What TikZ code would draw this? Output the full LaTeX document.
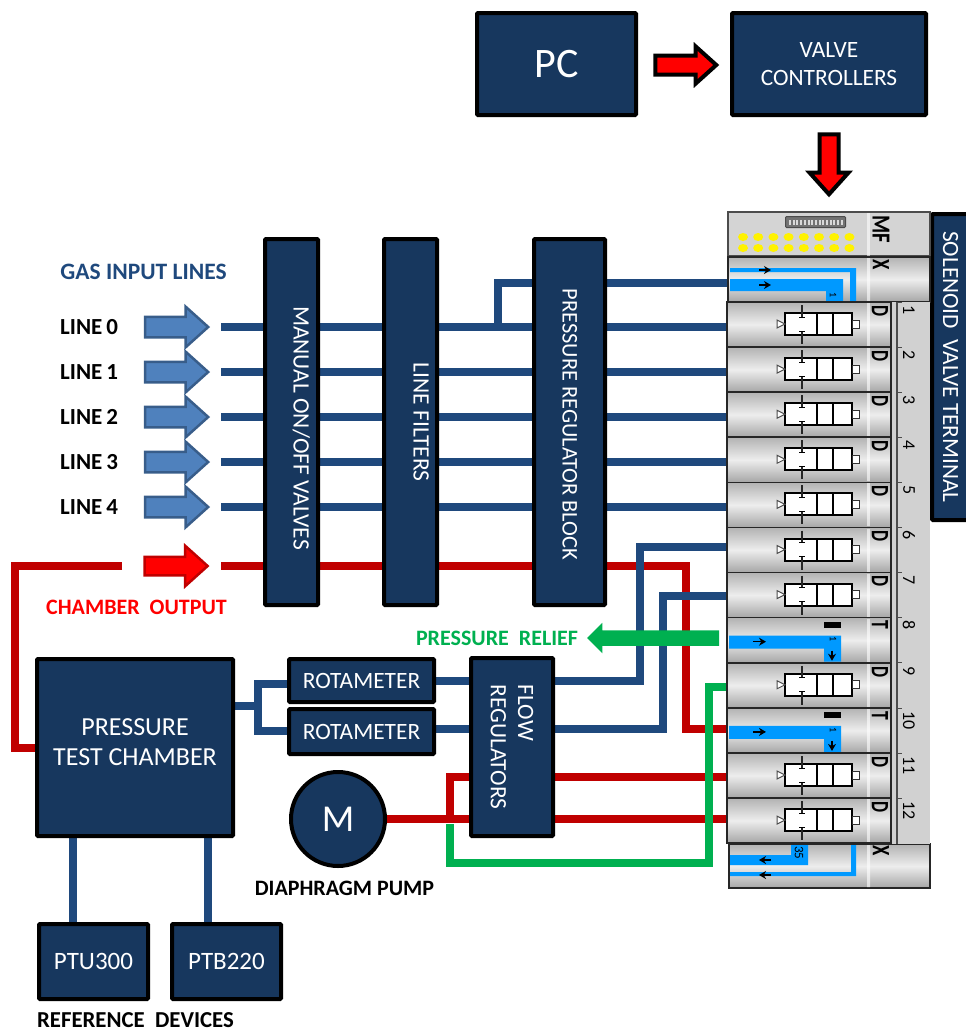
\documentclass[tikz,border=0pt]{standalone}
\usepackage{fontspec}
\setmainfont{Carlito}
\usetikzlibrary{positioning,arrows.meta,shapes.arrows,backgrounds}
\definecolor{navy}{HTML}{17375E}
\definecolor{pipeblue}{HTML}{1F497D}
\definecolor{piperred}{HTML}{C00000}
\definecolor{pipegreen}{HTML}{00B050}
\definecolor{flowblue}{HTML}{0099FF}
\definecolor{arrowblue}{HTML}{4F81BD}
\definecolor{arrowedge}{HTML}{385D8A}
\newcommand{\fs}[1]{\fontsize{#1}{#1}\selectfont}
\newcommand{\nudged}[3]{\hspace*{#2}\raisebox{#1}[0pt][0pt]{#3}}
\begin{document}
\begin{tikzpicture}[
    on grid,>=Stealth,x=1pt,y=-1pt,
    box/.style={draw=black,fill=navy,line width=4pt,rounded corners=1pt,text=white,align=center,inner sep=0pt},
    vbox/.style={box,rotate=-90},
    bluepipe/.style={draw=pipeblue,line width=8pt},
    redpipe/.style={draw=piperred,line width=8pt},
    greenpipe/.style={draw=pipegreen,line width=7.5pt},
    lbl/.style={font=\bfseries\fs{22},inner sep=0pt},
    blockarrow/.style={single arrow,single arrow head extend=10pt,single arrow tip angle=84,inner sep=0pt,inner ysep=9pt,minimum height=63pt,line width=2.5pt},
    module/.style={draw=black!85,line width=1.5pt,minimum width=164pt,minimum height=45pt,inner sep=0pt,top color=black!30,bottom color=black!35,middle color=black!7},
    rotlabel/.style={rotate=-90,inner sep=0pt,anchor=west},
    letter/.style={rotate=-90,inner sep=0pt,font=\bfseries\fs{25}},
    flow/.style={fill=flowblue,draw=none},
    tinyarrow/.style={-{Stealth[length=7pt,width=8pt]},line width=1.5pt,black}
]
    \useasboundingbox (0,0) rectangle (966,1034);
    %Top row
    \node[box,minimum width=159pt,minimum height=102pt,font=\fs{42}] (pc) at (556.5,64) {PC};
    \node[box,minimum width=194pt,minimum height=102pt,font=\fs{23.4},right=272.5pt of pc] (ctrl) {VALVE\\[4.5pt]CONTROLLERS};
    \node[blockarrow,fill=red,draw=black,line width=4pt,minimum height=61pt,inner ysep=7.5pt,single arrow head extend=9pt,right=124pt of pc,yshift=-1pt] (pc-arrow) {};
    \node[blockarrow,fill=red,draw=black,line width=4pt,minimum height=60pt,inner ysep=7.5pt,single arrow head extend=10pt,rotate=-90,below=95pt of ctrl] (ctrl-arrow) {};
    %Vertical blocks
    \node[vbox,minimum width=366pt,minimum height=53pt,font=\fs{23.5}] (valves) at (291.5,422) {\nudged{2pt}{12pt}{MANUAL ON/OFF VALVES}};
    \node[vbox,minimum width=366pt,minimum height=53pt,font=\fs{23.5},right=119pt of valves] (filters) {\nudged{3pt}{0pt}{LINE FILTERS}};
    \node[vbox,minimum width=366pt,minimum height=71pt,font=\fs{22.4},right=159pt of filters] (block) {\nudged{-7pt}{5pt}{PRESSURE REGULATOR BLOCK}};
    \node[vbox,minimum width=306pt,minimum height=38pt,font=\fs{23.3}] (terminal) at (951,367) {\nudged{-8pt}{0pt}{SOLENOID\ \ VALVE TERMINAL}};
    %Lower blocks
    \node[box,minimum width=196pt,minimum height=177pt,font=\fs{26}] (chamber) at (135,747.5) {PRESSURE\\[4pt]TEST CHAMBER\rule[-11pt]{0pt}{0pt}};
    \node[box,minimum width=145pt,minimum height=43pt,font=\fs{23.4}] (rota1) at (361.5,680.5) {ROTAMETER};
    \node[box,minimum width=145pt,minimum height=45pt,font=\fs{23.4},below=51pt of rota1] (rota2) {ROTAMETER};
    \node[vbox,minimum width=178pt,minimum height=82pt,font=\fs{23.4},align=left] (flowreg) at (512,747) {FLOW\\[4pt]REGULATORS};
    \node[box,circle,minimum size=94pt,font=\fs{38}] (pump) at (338,819) {M};
    \node[box,minimum width=109pt,minimum height=75pt,font=\fs{25}] (ptu) at (93.5,961.5) {PTU300};
    \node[box,minimum width=109pt,minimum height=75pt,font=\fs{25},right=133pt of ptu] (ptb) {PTB220};
    %Labels
    \node[lbl,text=pipeblue,font=\bfseries\fs{23.5}] (gas) at (143.5,272) {GAS INPUT LINES};
    \node[lbl,text=red] (output) at (136.5,607) {CHAMBER\ \ OUTPUT};
    \node[lbl,text=pipegreen] (relief) at (497,638) {PRESSURE\ \ RELIEF};
    \node[lbl] (pumplabel) at (344.5,888) {DIAPHRAGM PUMP};
    \node[lbl,font=\bfseries\fs{22.8}] (refs) at (135.5,1020) {REFERENCE\ \ DEVICES};
    %Gas lines
    \foreach \i/\y in {0/327,1/372,2/417,3/462,4/507}{
        \node[lbl,anchor=west,font=\bfseries\fs{23}] (line\i) at (60,\y) {LINE\,\i};
        \node[blockarrow,fill=arrowblue,draw=arrowedge] (arrow\i) at (171,\y) {};
        \coordinate (in\i) at (221,\y);
    }
    \node[blockarrow,fill=red,draw=piperred,inner ysep=8pt,single arrow head extend=11pt] (arrow5) at (171,566) {};
    \coordinate (in5) at (221,566);
    \coordinate (out5) at (122,566);
    %Terminal head
    \node[draw=black!70,line width=1.5pt,fill=black!17,minimum width=202pt,minimum height=44pt,inner sep=0pt] (head) at (829,234) {};
    \fill[white,opacity=.6] (867,213) rectangle (870,256);
    \node[draw=black!70,line width=1pt,rounded corners=1pt,fill=black!55,minimum width=60pt,minimum height=11pt,inner sep=0pt] (chip) at (815.5,222) {};
    \foreach \k in {0,...,14}{\fill[white!85!black] (789+\k*3.7,219.5) rectangle ++(2,5);}
    \foreach \k in {0,...,7}{
        \fill[yellow] (743+\k*15.2,237) ellipse (5pt and 4pt);
        \fill[yellow] (743+\k*15.2,248) ellipse (5pt and 4pt);
    }
    \node[letter,font=\bfseries\fs{26}] (mf) at (881,229) {\scalebox{.8}[1]{MF}};
    %Top and bottom X modules
    \node[module,minimum width=202pt] (xtop) at (829,279.5) {};
    \node[module,minimum width=201pt,minimum height=44pt] (xbot) at (829.5,866) {};
    \fill[white,opacity=.6] (867,258) rectangle (870,301) (867,845) rectangle (870,887);
    \fill[flow] (730,268) -| (856,301) -- (850,301) |- (730,272) -- cycle;
    \fill[flow] (730,279) -| (843,301) -- (826,301) |- (730,291) -- cycle;
    \fill[flow] (730,876) -| (856,845) -- (851,845) |- (730,872) -- cycle;
    \fill[flow] (730,855) -| (791,845) -- (808,845) |- (730,865) -- cycle;
    \draw[tinyarrow] (759,270) -- (771,270);
    \draw[tinyarrow] (759,285) -- (771,285);
    \draw[tinyarrow] (771,860) -- (759,860);
    \draw[tinyarrow] (771,875) -- (759,875);
    \node[rotlabel,font=\fs{10}] (one) at (833,292) {1};
    \node[rotlabel,font=\fs{13}] (n35) at (799,846) {35};
    \node[letter] (xa) at (881,265) {\scalebox{.75}[1]{X}};
    \node[letter] (xb) at (881,851) {\scalebox{.75}[1]{X}};
    %Valve modules
    \fill[black!18] (891,302) rectangle (930,844);
    \draw[black!70,line width=1.5pt] (897,302) -- (897,844);
    \foreach \i/\k in {1/D,2/D,3/D,4/D,5/D,6/D,7/D,8/T,9/D,10/T,11/D,12/D}{
        \pgfmathsetmacro{\t}{302+45.1*(\i-1)}
        \node[module] (mod\i) at (809,\t+22.5) {};
        \fill[white,opacity=.6] (867,\t+1) rectangle (870,\t+44);
        \node[letter,anchor=west] (kind\i) at (880,\t+3) {\scalebox{.7}[1]{\k}};
        \node[rotlabel,font=\fs{18}] (num\i) at (909,\t+3) {\i};
        \draw[black!70,line width=.7pt] (898,\t) -- (902,\t);
        \if\k D
            \draw[black,line width=2pt,fill=white] (785,\t+11) rectangle (852,\t+33);
            \draw[black,line width=2pt] (817,\t+11) -- (817,\t+33) (833,\t+11) -- (833,\t+33);
            \draw[black!85,line width=1.2pt] (802,\t+3) -- (802,\t+15) (802,\t+29) -- (802,\t+42);
            \draw[black,line width=.8pt] (799,\t+15) -- (805,\t+15) (799,\t+29) -- (805,\t+29);
            \draw[black!70,line width=1pt,fill=white] (785,\t+22) -- (777,\t+18) -- (777,\t+26) -- cycle;
            \draw[black!80,line width=1pt,fill=white] (852,\t+18) rectangle (859,\t+26);
        \else
            \fill[black] (824,\t+4) rectangle (841,\t+10);
            \fill[flow] (729,\t+18) -| (841,\t+44) -- (824,\t+44) |- (729,\t+31) -- cycle;
            \draw[tinyarrow] (753,\t+24) -- (766,\t+24);
            \draw[tinyarrow] (832,\t+33) -- (832,\t+43);
            \node[rotlabel,font=\fs{10}] (onet\i) at (833,\t+19) {1};
        \fi
    }
    \node[blockarrow,fill=pipegreen,draw=none,minimum height=132pt,inner ysep=6.5pt,single arrow head extend=7.5pt,single arrow tip angle=90,shape border rotate=180] (relief-arrow) at (657,638) {};
    %Pipes
    \begin{scope}[on background layer]
        \draw[redpipe] (out5) -| (15,748) -- (chamber.west |- 0,748);
        \draw[redpipe] (in5) -- (686,566) |- (mod10.west |- 0,729);
        \draw[redpipe] (pump.east) -- (mod12.west |- pump.east);
        \draw[redpipe] (mod11.west |- 0,777) -- (450,777) -- (450,820);
        \foreach \i/\j in {0/1,1/2,2/3,3/4,4/5}{
            \draw[bluepipe] (in\i) -- (in\i -| mod\j.west);
        }
        \draw[bluepipe] (498,327) |- (block.north |- 0,283);
        \draw[bluepipe] (block.north |- 0,283) -- (xtop.west |- 0,283);
        \draw[bluepipe] (rota1.east |- 0,681) -- (640,681) |- (mod6.west |- 0,547);
        \draw[bluepipe] (rota2.east |- 0,729) -- (663,729) |- (mod7.west |- 0,596);
        \draw[bluepipe] (chamber.east |- 0,706) -- (258,706);
        \draw[bluepipe] (rota1.west |- 0,684) -| (258,731) -- (rota2.west |- 0,731);
        \draw[bluepipe] (chamber.south -| 73,0) -- (ptu.north -| 73,0);
        \draw[bluepipe] (chamber.south -| 208,0) -- (ptb.north -| 208,0);
        \draw[greenpipe] (mod9.west |- 0,687) -- (709,687) -- (709,863) -| (450,824);
    \end{scope}
\end{tikzpicture}
\end{document}
